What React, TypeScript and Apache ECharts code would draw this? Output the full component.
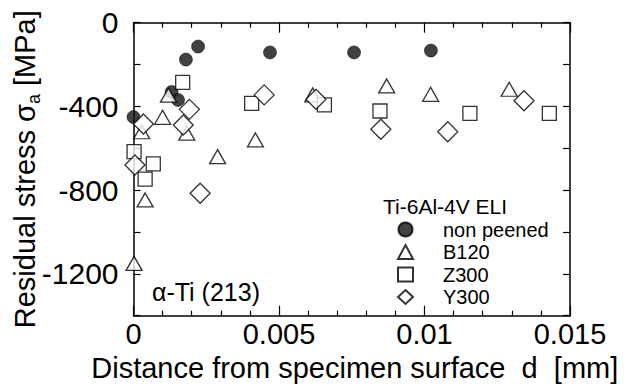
import { useEffect, useRef } from 'react';
import * as echarts from 'echarts';

// ---- data (d [mm], residual stress [MPa]) ----
const seriesNames = ['non peened', 'B120', 'Z300', 'Y300'];

const nonPeened: [number, number][] = [
  [0.0, -451], [0.00131, -331], [0.00153, -369], [0.0018, -176],
  [0.00222, -114], [0.00469, -142], [0.00758, -142], [0.01022, -133],
];

const b120: [number, number][] = [
  [0.0012, -346], [0.001, -452], [0.00028, -521], [0.00183, -528],
  [0.00419, -560], [0.00289, -640], [0.0004, -847], [0.00002, -1150],
  [0.00616, -345], [0.0087, -302], [0.01021, -342], [0.01291, -318],
];

const z300: [number, number][] = [
  [0.00169, -285], [0.00406, -385], [0.00656, -393], [0.00847, -422],
  [0.01156, -433], [0.01429, -433], [0.00002, -616], [0.00068, -675],
  [0.0004, -747],
];

const y300: [number, number][] = [
  [0.00034, -484], [0.00192, -414], [0.00171, -489], [0.00449, -345],
  [0.00627, -366], [0.0085, -509], [0.0108, -521], [0.01342, -373],
  [0.00005, -680], [0.00229, -815],
];

const yTickLabels = [0, -400, -800, -1200];
const xRange = { min: 0, max: 0.015, interval: 0.005 };
const yRange = { min: -1400, max: 0, interval: 200 };

const legendTitle = 'Ti-6Al-4V ELI';
const annotation = 'α-Ti (213)';
const xName = 'Distance from specimen surface  d  [mm]';

const FONT = '"Liberation Sans", Arial, Helvetica, sans-serif';

export default function App() {
  const ref = useRef<HTMLDivElement>(null);

  useEffect(() => {
    if (!ref.current) return;
    const chart = echarts.init(ref.current, undefined, { renderer: 'svg' });
    const line = { color: '#000', width: 1.5 };
    const hollow = { color: '#fff', borderColor: '#000', borderWidth: 1.3 };

    const xBase = {
      type: 'value' as const,
      min: xRange.min,
      max: xRange.max,
      interval: xRange.interval,
      splitLine: { show: false },
      minorSplitLine: { show: false },
      axisLine: { onZero: false, lineStyle: line },
      axisTick: { inside: true, length: 10, lineStyle: { color: '#000', width: 1.2 } },
      minorTick: { show: true, splitNumber: 5, length: 5, lineStyle: { color: '#000', width: 1.2 } },
    };
    const yBase = {
      type: 'value' as const,
      min: yRange.min,
      max: yRange.max,
      interval: yRange.interval,
      splitLine: { show: false },
      axisLine: { onZero: false, lineStyle: line },
      axisTick: { inside: true, length: 7, lineStyle: { color: '#000', width: 1.2 } },
    };

    chart.setOption({
      animation: false,
      backgroundColor: '#fff',
      textStyle: { fontFamily: FONT, color: '#000' },
      grid: {
        left: 133.5,
        right: 67,
        top: 22.7,
        bottom: 73.3,
        containLabel: false,
        outerBoundsMode: 'none',
      },
      title: [
        {
          text: legendTitle,
          left: 383,
          top: 195.5,
          padding: 0,
          textStyle: { fontSize: 21, fontWeight: 'normal', color: '#000', fontFamily: FONT, lineHeight: 21 },
        },
        {
          text: annotation,
          left: 152,
          top: 279,
          padding: 0,
          textStyle: { fontSize: 25, fontWeight: 'normal', color: '#000', fontFamily: FONT, lineHeight: 25 },
        },
      ],
      legend: {
        data: seriesNames,
        orient: 'vertical',
        left: 397,
        top: 218.5,
        padding: 0,
        itemWidth: 15,
        itemHeight: 14,
        itemGap: 0.5,
        selectedMode: false,
        textStyle: { fontSize: 20, lineHeight: 22, color: '#000', fontFamily: FONT, padding: [0, 0, 0, 25] },
      },
      xAxis: [
        {
          ...xBase,
          position: 'bottom',
          axisLabel: { fontSize: 29, margin: 4, color: '#000', fontFamily: FONT },
          name: xName,
          nameLocation: 'middle',
          nameGap: 38,
          nameMoveOverlap: false,
          nameTextStyle: { fontSize: 29, color: '#000', fontFamily: FONT, padding: [0, 0, 0, 6] },
        },
        { ...xBase, position: 'top', axisLabel: { show: false } },
      ],
      yAxis: [
        {
          ...yBase,
          position: 'left',
          axisLabel: {
            fontSize: 30,
            margin: 15,
            color: '#000',
            fontFamily: FONT,
            formatter: (v: number) => (yTickLabels.includes(v) ? String(v) : ''),
          },
          name: '{n|Residual stress σ}{s|a}{n| [MPa]}',
          nameLocation: 'middle',
          nameGap: 91,
          nameMoveOverlap: false,
          nameTextStyle: {
            fontSize: 29,
            color: '#000',
            fontFamily: FONT,
            rich: {
              n: { fontSize: 29, lineHeight: 36, color: '#000', fontFamily: FONT },
              s: { fontSize: 18, lineHeight: 18, verticalAlign: 'bottom', color: '#000', fontFamily: FONT },
            },
          },
        },
        { ...yBase, position: 'right', axisLabel: { show: false } },
      ],
      series: [
        {
          type: 'scatter',
          name: seriesNames[0],
          data: nonPeened,
          symbol: 'circle',
          symbolSize: 13,
          silent: true,
          itemStyle: { color: '#111', borderColor: '#000', borderWidth: 0.6 },
        },
        {
          type: 'scatter',
          name: seriesNames[1],
          data: b120,
          symbol: 'triangle',
          symbolSize: [16, 14],
          silent: true,
          itemStyle: hollow,
        },
        {
          type: 'scatter',
          name: seriesNames[2],
          data: z300,
          symbol: 'rect',
          symbolSize: 14,
          silent: true,
          itemStyle: hollow,
        },
        {
          type: 'scatter',
          name: seriesNames[3],
          data: y300,
          symbol: 'diamond',
          symbolSize: 20,
          silent: true,
          itemStyle: hollow,
        },
      ],
    });
    return () => chart.dispose();
  }, []);

  return (
    <div
      ref={ref}
      style={{ position: 'fixed', left: 0, top: 0, width: 637, height: 389, background: '#fff' }}
    />
  );
}
